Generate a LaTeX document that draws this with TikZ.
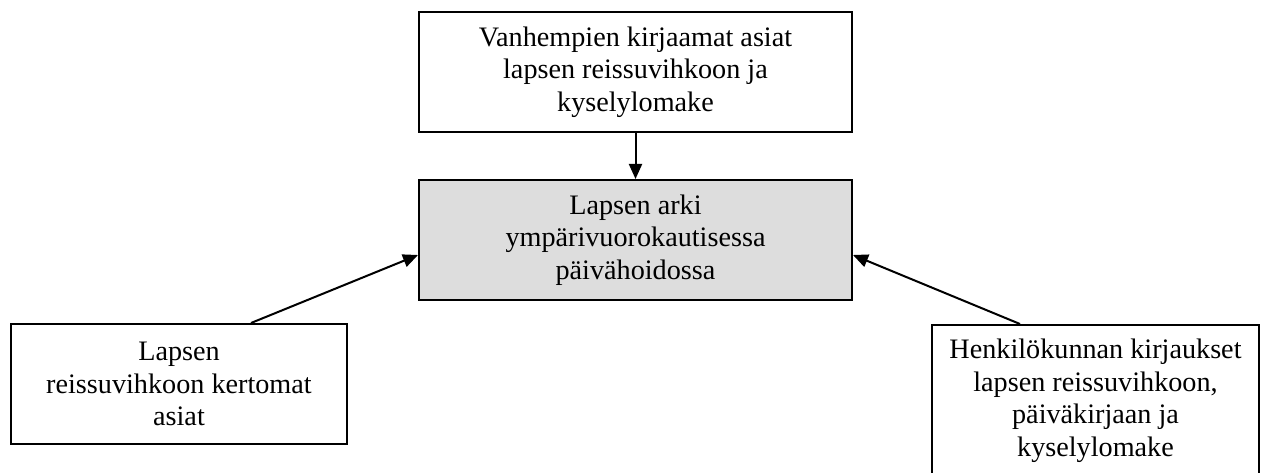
\documentclass[tikz,border=0pt]{standalone}
\usepackage{fontspec}
\setmainfont{Liberation Serif}
\usetikzlibrary{arrows.meta}
\begin{document}
\begin{tikzpicture}[x=1pt,y=1pt,
  box/.style={draw=black,line width=2pt,align=center,inner sep=0pt,
    font=\fontsize{28.2}{32.5}\selectfont},
  conn/.style={line width=2pt,-{Triangle[length=15pt,width=13pt]}}]
\clip (0,0) rectangle (1264,472);
\useasboundingbox (0,0) rectangle (1264,472);
\fill[white] (0,0) rectangle (1264,472);
\node[box,minimum width=433pt,minimum height=120pt] (top) at (635.5,400)
  {Vanhempien kirjaamat asiat\\lapsen reissuvihkoon ja\\kyselylomake};
\node[box,fill={rgb,255:red,221;green,221;blue,221},minimum width=433pt,minimum height=120pt] (mid) at (635.5,232)
  {Lapsen arki\\ympärivuorokautisessa\\päivähoidossa};
\node[box,minimum width=336pt,minimum height=120pt] (left) at (179,88)
  {Lapsen\\reissuvihkoon kertomat\\asiat};
\node[box,minimum width=327pt,minimum height=152pt,anchor=north] (right) at (1095.5,148)
  {Henkilökunnan kirjaukset\\lapsen reissuvihkoon,\\päiväkirjaan ja\\kyselylomake};
\draw[conn] (top.south) -- (mid.north);
\draw[conn] ([xshift=72pt]left.north) -- ([yshift=-15pt]mid.west);
\draw[conn] ([xshift=-75.5pt]right.north) -- ([yshift=-15pt]mid.east);
\end{tikzpicture}
\end{document}
